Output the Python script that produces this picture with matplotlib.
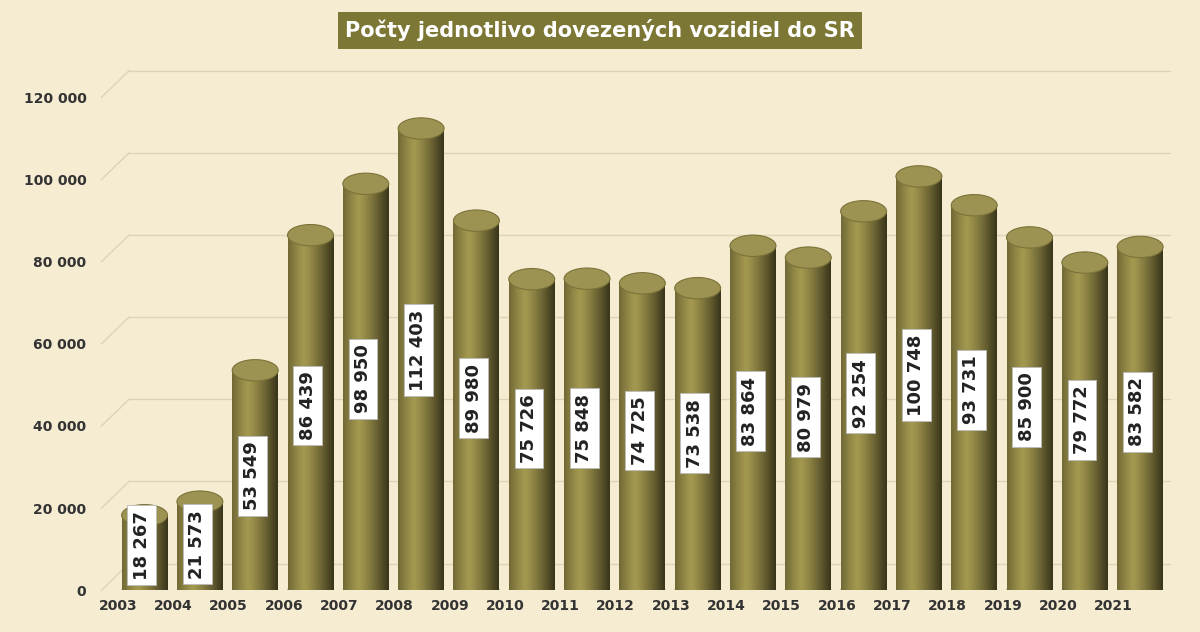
import matplotlib.pyplot as plt
import matplotlib.patches as patches
import numpy as np

years = ['2003', '2004', '2005', '2006', '2007', '2008', '2009', '2010', '2011', '2012',
         '2013', '2014', '2015', '2016', '2017', '2018', '2019', '2020', '2021']
values = [18267, 21573, 53549, 86439, 98950, 112403, 89980, 75726, 75848, 74725,
          73538, 83864, 80979, 92254, 100748, 93731, 85900, 79772, 83582]
labels = ['18 267', '21 573', '53 549', '86 439', '98 950', '112 403', '89 980', '75 726',
          '75 848', '74 725', '73 538', '83 864', '80 979', '92 254', '100 748', '93 731',
          '85 900', '79 772', '83 582']
yticks = [0, 20000, 40000, 60000, 80000, 100000, 120000]
ytick_labels = ['0', '20 000', '40 000', '60 000', '80 000', '100 000', '120 000']

bg = '#f6ecd2'
fig = plt.figure(figsize=(12, 6.32), dpi=100, facecolor=bg)
ax = fig.add_axes([0.079, 0.066, 0.896, 0.78])
ax.set_facecolor(bg)
ax.set_xlim(-0.42, 19.02)
ax.set_ylim(0, 120000)
for s in ax.spines.values():
    s.set_visible(False)

# back-wall grid lines (shifted for 3D look)
for t in yticks:
    ax.plot([0.2, 19.02], [t + 6500, t + 6500], color='#ddd3b6', lw=1, clip_on=False, zorder=0)
    ax.plot([-0.3, 0.2], [t, t + 6500], color='#ddd3b6', lw=1, clip_on=False, zorder=0)

# horizontal gradient for cylinder bodies
grad = np.linspace(0, 1, 64)
shade = 1 - 0.55 * np.abs(grad - 0.35) ** 1.2 * 2
c_base = np.array([0.56, 0.52, 0.27])
img = np.clip(np.outer(np.ones(2), shade)[..., None] * c_base * 1.15, 0, 1)

w = 0.83
eh = 2600
for i, v in enumerate(values):
    cx = i + 0.48
    x0 = cx - w / 2
    body = patches.Rectangle((x0, 0), w, v, facecolor='none', edgecolor='none')
    ax.add_patch(body)
    im = ax.imshow(img, extent=[x0, x0 + w, 0, v], aspect='auto', zorder=2)
    im.set_clip_path(body)
    ax.add_patch(patches.Ellipse((cx, 0), w, eh * 2, facecolor='#6b6430', edgecolor='none', zorder=1.9))
    ax.add_patch(patches.Ellipse((cx, v), w, eh * 2, facecolor='#9c9353',
                                 edgecolor='#7a7238', lw=0.8, zorder=3, clip_on=False))
    ax.text(cx - 0.05, max(v * 0.52, 11000), labels[i], rotation=90, ha='center', va='center',
            fontsize=13, fontweight='bold', color='#222222', zorder=4,
            bbox=dict(boxstyle='square,pad=0.3', facecolor='white', edgecolor='#bbbbbb', lw=0.6))

ax.set_xticks(range(len(years)))
ax.set_xticklabels(years, fontsize=10, fontweight='bold', color='#333333')
ax.set_yticks(yticks)
ax.set_yticklabels(ytick_labels, fontsize=10, fontweight='bold', color='#333333')
ax.tick_params(length=0, pad=6)

fig.text(0.5, 0.952, 'Počty jednotlivo dovezených vozidiel do SR', ha='center', va='center',
         fontsize=15, fontweight='bold', color='white',
         bbox=dict(boxstyle='square,pad=0.35', facecolor='#7d7735', edgecolor='none'))

fig.savefig('out.png', dpi=100, facecolor=bg)
